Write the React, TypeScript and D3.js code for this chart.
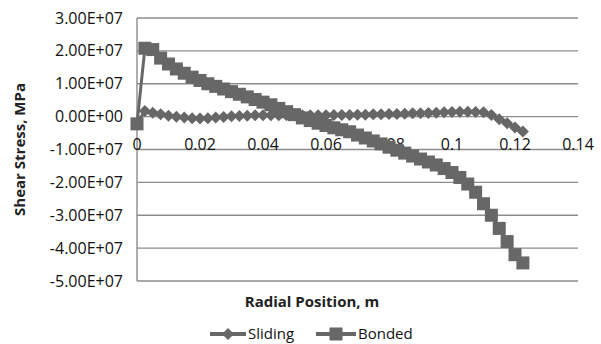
import * as d3 from "d3";
import React, { useRef, useEffect } from "react";

// radial position, m
const radius = [
  0, 0.0025, 0.005, 0.0075, 0.01, 0.0125, 0.015, 0.0175, 0.02, 0.0225,
  0.025, 0.0275, 0.03, 0.0325, 0.035, 0.0375, 0.04, 0.0425, 0.045, 0.0475,
  0.05, 0.0525, 0.055, 0.0575, 0.06, 0.0625, 0.065, 0.0675, 0.07, 0.0725,
  0.075, 0.0775, 0.08, 0.0825, 0.085, 0.0875, 0.09, 0.0925, 0.095, 0.0975,
  0.1, 0.1025, 0.105, 0.1075, 0.11, 0.1125, 0.115, 0.1175, 0.12, 0.1225,
];

// shear stress, units of 1e7
const sliding = [
  -0.2, 0.17, 0.12, 0.07, 0.03, 0.0, -0.03, -0.05, -0.06, -0.05,
  -0.03, -0.01, 0.01, 0.02, 0.03, 0.04, 0.04, 0.04, 0.04, 0.04,
  0.04, 0.04, 0.04, 0.04, 0.04, 0.05, 0.05, 0.05, 0.06, 0.06,
  0.07, 0.07, 0.08, 0.08, 0.09, 0.1, 0.1, 0.11, 0.12, 0.13,
  0.14, 0.15, 0.15, 0.14, 0.13, 0.05, -0.08, -0.2, -0.33, -0.45,
];

const bonded = [
  -0.22, 2.08, 2.04, 1.78, 1.6, 1.45, 1.32, 1.2, 1.1, 1.0,
  0.92, 0.84, 0.76, 0.68, 0.6, 0.52, 0.44, 0.36, 0.25, 0.15,
  0.06, -0.04, -0.12, -0.2, -0.27, -0.34, -0.4, -0.46, -0.56, -0.65,
  -0.74, -0.83, -0.93, -1.02, -1.11, -1.2, -1.29, -1.38, -1.47, -1.58,
  -1.7, -1.85, -2.05, -2.3, -2.65, -3.0, -3.4, -3.8, -4.2, -4.45,
];

const yTicks = [3, 2, 1, 0, -1, -2, -3, -4, -5];
const yTickLabels = [
  "3.00E+07", "2.00E+07", "1.00E+07", "0.00E+00", "-1.00E+07",
  "-2.00E+07", "-3.00E+07", "-4.00E+07", "-5.00E+07",
];
const xTicks = [0, 0.02, 0.04, 0.06, 0.08, 0.1, 0.12, 0.14];
const xTickLabels = ["0", "0.02", "0.04", "0.06", "0.08", "0.1", "0.12", "0.14"];

const width = 601;
const height = 344;
const marginLeft = 137;
const marginRight = 23;
const marginTop = 18;
const marginBottom = 63;
const gray = "#676767";
const font = "'Open Sans', 'Liberation Sans', sans-serif";

function App() {
  const svgRef = useRef(null);

  useEffect(() => {
    const svg = d3.select(svgRef.current);
    svg.selectAll("*").remove();

    const x = d3.scaleLinear().domain([0, 0.14]).range([marginLeft, width - marginRight]);
    const y = d3.scaleLinear().domain([-5, 3]).range([height - marginBottom, marginTop]);

    // gridlines
    svg.append("g")
      .selectAll("line")
      .data(yTicks)
      .enter()
      .append("line")
      .attr("x1", marginLeft)
      .attr("x2", width - marginRight)
      .attr("y1", d => y(d))
      .attr("y2", d => y(d))
      .attr("stroke", "#8c8c8c")
      .attr("stroke-width", 1.4);

    // vertical axis line
    svg.append("line")
      .attr("x1", marginLeft)
      .attr("x2", marginLeft)
      .attr("y1", y(3))
      .attr("y2", y(-5))
      .attr("stroke", "#8c8c8c")
      .attr("stroke-width", 1.4);

    svg.append("g")
      .selectAll("text")
      .data(yTicks)
      .enter()
      .append("text")
      .text((d, i) => yTickLabels[i])
      .attr("x", marginLeft - 14)
      .attr("y", d => y(d))
      .attr("dy", "0.35em")
      .attr("text-anchor", "end")
      .style("font-family", font)
      .style("font-size", "16px")
      .style("fill", "#111");

    svg.append("g")
      .selectAll("text")
      .data(xTicks)
      .enter()
      .append("text")
      .text((d, i) => xTickLabels[i])
      .attr("x", d => x(d))
      .attr("y", y(0) + 28)
      .attr("dy", "0.35em")
      .attr("text-anchor", "middle")
      .style("font-family", font)
      .style("font-size", "16px")
      .style("fill", "#111");

    const line = d3.line<number>()
      .x((d, i) => x(radius[i]))
      .y(d => y(d));

    const diamond = "M0,-6L6,0L0,6L-6,0Z";

    // sliding
    svg.append("path")
      .datum(sliding)
      .attr("d", line)
      .attr("fill", "none")
      .attr("stroke", gray)
      .attr("stroke-width", 3);
    svg.append("g")
      .selectAll("path")
      .data(sliding)
      .enter()
      .append("path")
      .attr("d", diamond)
      .attr("transform", (d, i) => `translate(${x(radius[i])},${y(d)})`)
      .attr("fill", gray);

    // bonded
    svg.append("path")
      .datum(bonded)
      .attr("d", line)
      .attr("fill", "none")
      .attr("stroke", gray)
      .attr("stroke-width", 3);
    svg.append("g")
      .selectAll("rect")
      .data(bonded)
      .enter()
      .append("rect")
      .attr("x", (d, i) => x(radius[i]) - 6.5)
      .attr("y", d => y(d) - 6.5)
      .attr("width", 13)
      .attr("height", 13)
      .attr("fill", gray);

    // axis titles
    svg.append("text")
      .text("Radial Position, m")
      .attr("x", 312)
      .attr("y", 302)
      .attr("dy", "0.35em")
      .attr("text-anchor", "middle")
      .style("font-family", font)
      .style("font-weight", "bold")
      .style("font-size", "15px")
      .style("fill", "#222");

    svg.append("text")
      .text("Shear Stress, MPa")
      .attr("transform", `translate(20, ${(y(3) + y(-5)) / 2}) rotate(-90)`)
      .attr("dy", "0.35em")
      .attr("text-anchor", "middle")
      .style("font-family", font)
      .style("font-weight", "bold")
      .style("font-size", "15px")
      .style("fill", "#222");

    // legend
    const ly = 334;
    svg.append("line")
      .attr("x1", 210).attr("x2", 246)
      .attr("y1", ly).attr("y2", ly)
      .attr("stroke", gray).attr("stroke-width", 4);
    svg.append("path")
      .attr("d", diamond)
      .attr("transform", `translate(228,${ly})`)
      .attr("fill", gray);
    svg.append("text")
      .text("Sliding")
      .attr("x", 248).attr("y", ly)
      .attr("dy", "0.35em")
      .style("font-family", font)
      .style("font-size", "15px")
      .style("fill", "#111");

    svg.append("line")
      .attr("x1", 316).attr("x2", 356)
      .attr("y1", ly).attr("y2", ly)
      .attr("stroke", gray).attr("stroke-width", 4);
    svg.append("rect")
      .attr("x", 329.5).attr("y", ly - 6.5)
      .attr("width", 13).attr("height", 13)
      .attr("fill", gray);
    svg.append("text")
      .text("Bonded")
      .attr("x", 358).attr("y", ly)
      .attr("dy", "0.35em")
      .style("font-family", font)
      .style("font-size", "15px")
      .style("fill", "#111");
  }, []);

  return (
    <div style={{ position: "absolute", left: 0, top: 0 }}>
      <svg ref={svgRef} width={width} height={height} style={{ display: "block", background: "#fff" }} />
    </div>
  );
}

export default App;
